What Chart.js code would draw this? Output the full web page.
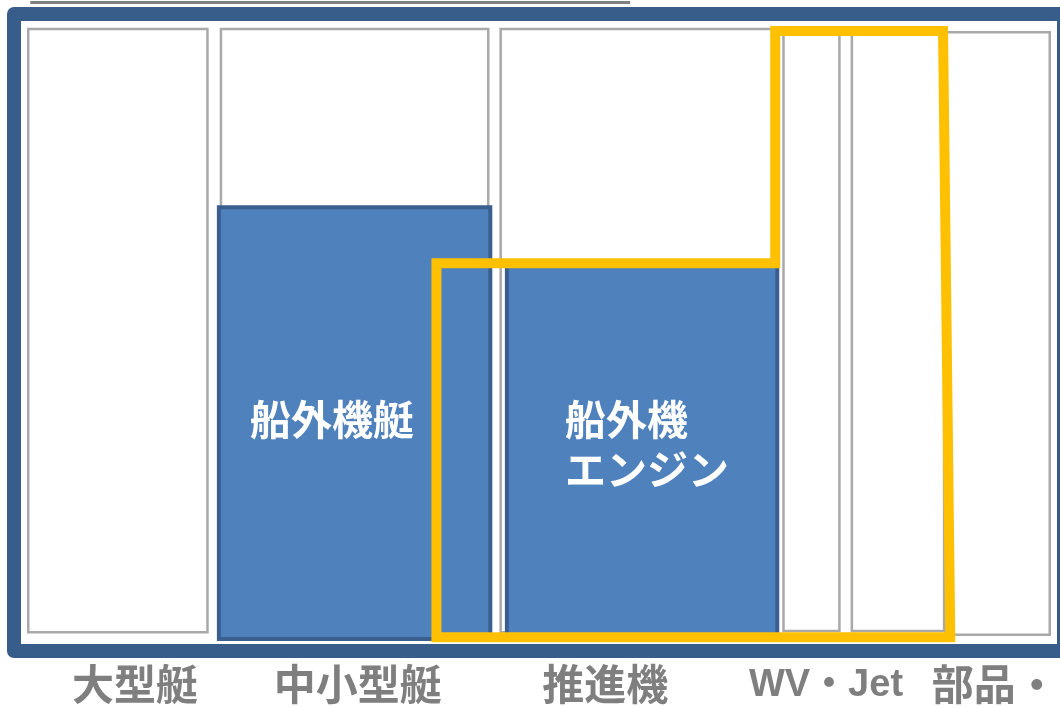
<!DOCTYPE html>
<html lang="ja">
<head>
<meta charset="utf-8">
<title>船外機艇・船外機エンジン</title>
<script src="https://cdn.jsdelivr.net/npm/chart.js@4.4.1/dist/chart.umd.min.js"></script>
<style>
  html, body { margin: 0; padding: 0; background: #ffffff; }
  #wrap { position: relative; width: 1060px; height: 707px; }
</style>
</head>
<body>
<div id="wrap"><canvas id="c" width="1060" height="707"></canvas></div>
<script>
// Category labels along the bottom and where each sits on the 0–100 x scale
const categories  = ['大型艇', '中小型艇', '推進機', 'WV・Jet', '部品・'];
const categoryPos = [11.0, 32.5, 56.4, 77.7, 94.0];

// Market segment columns (x from/to, y base/top, both on 0–100 scales)
const columnFrom = [0.7, 19.3, 46.3, 73.6, 80.2, 89.3];
const columnTo   = [18.0, 45.1, 72.9, 79.0, 89.1, 99.3];
const columnBase = [1.9, 1.9, 1.9, 2.1, 2.1, 1.5];
const columnTop  = [98.7, 98.7, 98.7, 97.8, 97.8, 98.2];

// Outboard segments
const barNames = ['船外機艇', '船外機\nエンジン'];
const barFrom  = [19.1, 46.9];
const barTo    = [45.3, 73.0];
const barBase  = [0.8, 1.1];
const barTop   = [70.1, 61.0];

// Outline of the highlighted business area
const outlineX = [40.1, 40.1, 72.8, 72.8, 89.0, 89.7, 40.1];
const outlineY = [1.1, 61.1, 61.1, 98.4, 98.4, 1.1, 1.1];

function rectPoints(x0, x1, y0, y1) {
  return [
    { x: x0, y: y0 }, { x: x0, y: y1 }, { x: x1, y: y1 },
    { x: x1, y: y0 }, { x: x0, y: y0 }
  ];
}

const lineBase = {
  showLine: true, pointRadius: 0, pointHoverRadius: 0, tension: 0,
  borderJoinStyle: 'miter', borderCapStyle: 'square', clip: false
};

const columnSets = columnFrom.map((x0, i) => Object.assign({}, lineBase, {
  label: 'column' + i,
  data: rectPoints(x0, columnTo[i], columnBase[i], columnTop[i]),
  borderColor: '#A9A9A9', borderWidth: 2.5, fill: false, order: 3
}));

const barSets = barFrom.map((x0, i) => Object.assign({}, lineBase, {
  label: barNames[i],
  data: rectPoints(x0, barTo[i], barBase[i], barTop[i]),
  borderColor: '#3A5F8F', backgroundColor: '#4F81BD',
  borderWidth: 4, fill: 'shape', order: 2
}));

const outlineSet = Object.assign({}, lineBase, {
  label: 'outline',
  data: outlineX.map((x, i) => ({ x: x, y: outlineY[i] })),
  borderColor: '#FFC000', borderWidth: 10, fill: false, order: 1
});

// Rounded blue frame around the plot area plus the title rule above it
const framePlugin = {
  id: 'frame',
  beforeDraw(chart, args, opts) {
    const { ctx, chartArea: a } = chart;
    ctx.save();
    ctx.fillStyle = '#ffffff';
    ctx.fillRect(0, 0, chart.width, chart.height);
    const h = opts.width / 2;
    ctx.strokeStyle = opts.color;
    ctx.lineWidth = opts.width;
    ctx.lineJoin = 'round';
    ctx.strokeRect(a.left - h, a.top - h, a.right - a.left + 2 * h, a.bottom - a.top + 2 * h);
    const xs = chart.scales.x;
    const y = a.top - opts.ruleGap;
    ctx.strokeStyle = opts.ruleColor;
    ctx.lineWidth = 3;
    ctx.lineCap = 'butt';
    ctx.beginPath();
    ctx.moveTo(xs.getPixelForValue(opts.ruleFrom), y);
    ctx.lineTo(xs.getPixelForValue(opts.ruleTo), y);
    ctx.stroke();
    ctx.restore();
  }
};

// Names written inside the outboard segments
const barLabelPlugin = {
  id: 'barLabels',
  afterDatasetsDraw(chart, args, opts) {
    const { ctx, scales } = chart;
    ctx.save();
    ctx.fillStyle = opts.color;
    ctx.font = opts.font;
    ctx.textAlign = 'left';
    ctx.textBaseline = 'middle';
    barNames.forEach((name, i) => {
      const px = scales.x.getPixelForValue(opts.at[i][0]);
      const py = scales.y.getPixelForValue(opts.at[i][1]);
      name.split('\n').forEach((line, j) => {
        ctx.fillText(line, px, py + j * opts.lineGap);
      });
    });
    ctx.restore();
  }
};

const tickFamily = '"Liberation Sans", "Noto Sans CJK JP", sans-serif';

new Chart(document.getElementById('c'), {
  type: 'scatter',
  data: { datasets: [outlineSet].concat(barSets, columnSets) },
  options: {
    responsive: false,
    animation: false,
    events: [],
    layout: { padding: { left: 21, right: 3, top: 21, bottom: 0 } },
    plugins: {
      legend: { display: false },
      tooltip: { enabled: false },
      frame: { color: '#385D8A', width: 14, ruleColor: '#808080', ruleGap: 18.5, ruleFrom: 0.9, ruleTo: 58.8 },
      barLabels: {
        color: '#ffffff',
        font: 'bold 41px "Noto Sans CJK JP", sans-serif',
        at: [[22.1, 36.0], [52.5, 36.0]],
        lineGap: 50
      }
    },
    scales: {
      x: {
        type: 'linear', min: 0, max: 100, display: true,
        grid: { display: false, drawTicks: false },
        border: { display: false },
        afterBuildTicks: (s) => { s.ticks = categoryPos.map(v => ({ value: v })); },
        afterFit: (s) => { s.height = 63; s.paddingLeft = 0; s.paddingRight = 0; },
        ticks: {
          autoSkip: false, maxRotation: 0, minRotation: 0, padding: 19,
          color: '#7F7F7F',
          font: (c) => ({
            family: tickFamily,
            size: /[A-Za-z]/.test(categories[c.index] || '') ? 38 : 42,
            weight: 'bold'
          }),
          callback: (v, i) => categories[i]
        }
      },
      y: { type: 'linear', min: 0, max: 100, display: false }
    }
  },
  plugins: [framePlugin, barLabelPlugin]
});
</script>
</body>
</html>
